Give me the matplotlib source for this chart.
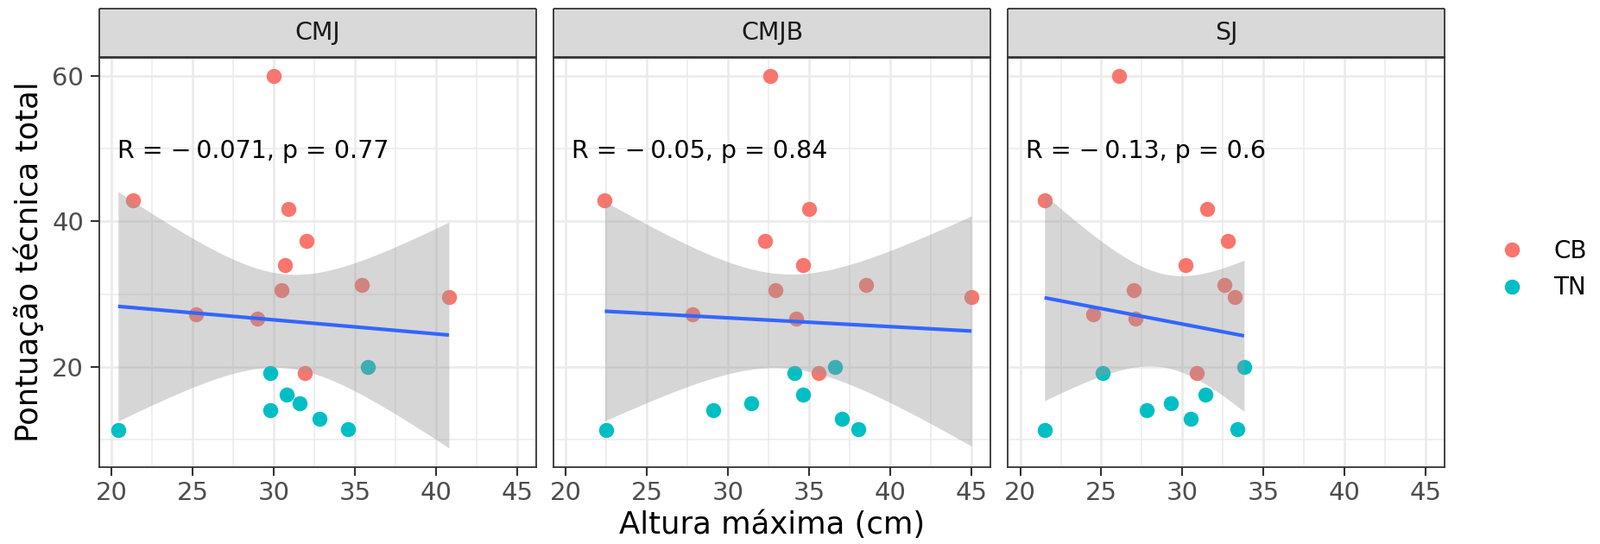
import numpy as np
import matplotlib
matplotlib.use("Agg")
import matplotlib.pyplot as plt
from matplotlib.lines import Line2D

# ---------------- data ----------------
panels = ["CMJ", "CMJB", "SJ"]
groups = ["CB", "TN"]
group_colors = {"CB": "#F8766D", "TN": "#00BFC4"}

y_cb = [60.0, 42.85, 41.7, 37.3, 34.0, 30.6, 31.25, 29.55, 27.2, 26.65, 19.15]
y_tn = [11.3, 19.15, 14.05, 16.15, 14.95, 12.9, 11.5, 20.0]

x_cb = {
    "CMJ":  [30.0, 21.3, 30.9, 32.0, 30.7, 30.5, 35.4, 40.8, 25.2, 29.0, 31.9],
    "CMJB": [32.6, 22.4, 35.0, 32.3, 34.6, 32.9, 38.5, 45.0, 27.8, 34.2, 35.6],
    "SJ":   [26.1, 21.5, 31.5, 32.8, 30.2, 27.0, 32.6, 33.2, 24.5, 27.1, 30.9],
}
x_tn = {
    "CMJ":  [20.4, 29.8, 29.8, 30.8, 31.6, 32.8, 34.6, 35.8],
    "CMJB": [22.5, 34.1, 29.1, 34.6, 31.4, 37.0, 38.0, 36.6],
    "SJ":   [21.5, 25.1, 27.8, 31.4, 29.3, 30.5, 33.4, 33.8],
}
cor_labels = {
    "CMJ": "R = \u2212\u20090.071, p = 0.77",
    "CMJB": "R = \u2212\u20090.05, p = 0.84",
    "SJ": "R = \u2212\u20090.13, p = 0.6",
}
x_ticks = [20, 25, 30, 35, 40, 45]
x_minor = [22.5, 27.5, 32.5, 37.5, 42.5]
y_ticks = [20, 40, 60]
y_minor = [10, 30, 50]
x_label = "Altura máxima (cm)"
y_label = "Pontuação técnica total"

T975 = 2.109816  # Student t 0.975 quantile, df = 17 (n = 19)

# ---------------- figure ----------------
W, H = 1853, 630
plt.rcParams['font.family'] = ['DejaVu Sans']
fig = plt.figure(figsize=(W / 100, H / 100), dpi=100)

panel_lr = [(115.0, 621.0), (641.0, 1147.3), (1167.3, 1673.3)]
p_top, p_bot = 65.5, 540.5
s_top = 10.0

def fx(px):
    return px / W

def fy(py):
    return 1 - py / H

border = "#333333"
for i, name in enumerate(panels):
    l, r = panel_lr[i]
    ax = fig.add_axes([fx(l), fy(p_bot), fx(r - l), fy(p_top) - fy(p_bot)])
    ax.set_xlim(19.24, 46.18)
    ax.set_ylim(6.28, 62.65)
    for v in x_minor:
        ax.axvline(v, color="#EBEBEB", lw=1.1, zorder=0)
    for v in y_minor:
        ax.axhline(v, color="#EBEBEB", lw=1.1, zorder=0)
    for v in x_ticks:
        ax.axvline(v, color="#EBEBEB", lw=1.9, zorder=0)
    for v in y_ticks:
        ax.axhline(v, color="#EBEBEB", lw=1.9, zorder=0)

    xs_all = np.array(x_cb[name] + x_tn[name])
    ys_all = np.array(y_cb + y_tn)
    ax.scatter(x_cb[name], y_cb, s=158, color=group_colors["CB"], lw=0, zorder=2)
    ax.scatter(x_tn[name], y_tn, s=158, color=group_colors["TN"], lw=0, zorder=2)

    # linear fit with 95% confidence band
    n = len(xs_all)
    b, a = np.polyfit(xs_all, ys_all, 1)
    resid = ys_all - (a + b * xs_all)
    sigma = np.sqrt(np.sum(resid ** 2) / (n - 2))
    xm = xs_all.mean()
    sxx = np.sum((xs_all - xm) ** 2)
    xg = np.linspace(xs_all.min(), xs_all.max(), 80)
    yg = a + b * xg
    se = sigma * np.sqrt(1 / n + (xg - xm) ** 2 / sxx)
    ax.fill_between(xg, yg - T975 * se, yg + T975 * se, color="#999999",
                    alpha=0.4, lw=0, zorder=3)
    ax.plot(xg, yg, color="#3366FF", lw=3.0, zorder=4, solid_capstyle="butt")

    ax.text(20.35, 48.65, cor_labels[name], fontsize=20.5, color="black",
            ha="left", va="baseline", zorder=5)

    ax.set_xticks(x_ticks)
    ax.set_xticklabels([str(t) for t in x_ticks])
    ax.set_yticks(y_ticks)
    if i == 0:
        ax.set_yticklabels([str(t) for t in y_ticks])
        ax.tick_params(axis="y", length=7, width=1.5, color=border,
                       labelsize=21, labelcolor="#4D4D4D", pad=6)
    else:
        ax.tick_params(axis="y", length=0, labelleft=False)
    ax.tick_params(axis="x", length=7, width=1.5, color=border,
                   labelsize=21, labelcolor="#4D4D4D", pad=5)
    for sp in ax.spines.values():
        sp.set_color(border)
        sp.set_linewidth(1.3)
        sp.set_zorder(6)

    # strip
    sax = fig.add_axes([fx(l), fy(p_top), fx(r - l), fy(s_top) - fy(p_top)])
    sax.set_facecolor("#D9D9D9")
    sax.set_xticks([])
    sax.set_yticks([])
    for sp in sax.spines.values():
        sp.set_color(border)
        sp.set_linewidth(1.3)
        sp.set_capstyle("butt")
    sax.spines["bottom"].set_linewidth(2.0)
    sax.text(0.5, 0.5, name, fontsize=20.5, color="#1A1A1A", ha="center",
             va="center", transform=sax.transAxes)

fig.text(fx((115.0 + 1673.3) / 2), fy(608), x_label, fontsize=25.5,
         color="black", ha="center", va="center")
fig.text(fx(33), fy((p_top + p_bot) / 2), y_label, fontsize=25.5,
         color="black", ha="center", va="center", rotation=90)

handles = [Line2D([], [], marker="o", ls="none", markersize=12.6,
                  markerfacecolor=group_colors[g], markeredgewidth=0)
           for g in groups]
fig.legend(handles, groups, loc="center left", bbox_to_anchor=(fx(1734), fy(312)),
           frameon=False, fontsize=20, handletextpad=1.15, labelspacing=0.52,
           handlelength=1.2, borderpad=0, borderaxespad=0)

fig.savefig("out.png", dpi=100, facecolor="white")
